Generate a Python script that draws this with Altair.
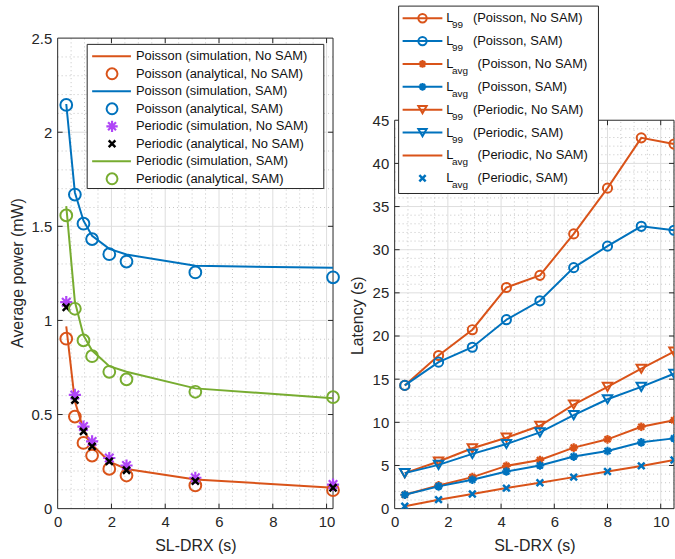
import altair as alt
import pandas as pd

# ---------------- data ----------------
sl_drx_power = [0.32, 0.64, 0.96, 1.28, 1.92, 2.56, 5.12, 10.24]
poisson_sim_nosam = [0.968, 0.57, 0.42, 0.34, 0.25, 0.211, 0.155, 0.111]
poisson_ana_nosam = [0.903, 0.489, 0.349, 0.282, 0.211, 0.176, 0.123, 0.098]
poisson_sim_sam = [2.15, 1.68, 1.53, 1.45, 1.38, 1.35, 1.29, 1.28]
poisson_ana_sam = [2.145, 1.669, 1.514, 1.432, 1.352, 1.313, 1.255, 1.229]
periodic_sim_nosam = [1.097, 0.604, 0.436, 0.357, 0.269, 0.229, 0.164, 0.128]
periodic_ana_nosam = [1.07, 0.577, 0.41, 0.331, 0.251, 0.204, 0.146, 0.111]
periodic_sim_sam = [1.607, 1.10, 0.92, 0.84, 0.757, 0.727, 0.639, 0.586]
periodic_ana_sam = [1.558, 1.062, 0.894, 0.81, 0.727, 0.687, 0.621, 0.592]

sl_drx_latency = [0.38, 1.65, 2.92, 4.2, 5.46, 6.73, 8.0, 9.27, 10.5]
l99_poisson_nosam = [14.28, 17.74, 20.73, 25.62, 27.03, 31.83, 37.13, 42.96, 42.24]
l99_poisson_sam = [14.28, 16.97, 18.7, 21.89, 24.08, 27.92, 30.41, 32.71, 32.25]
lavg_poisson_nosam = [1.61, 2.69, 3.65, 4.95, 5.64, 7.07, 8.03, 9.49, 10.25]
lavg_poisson_sam = [1.61, 2.58, 3.34, 4.31, 5.0, 6.03, 6.68, 7.68, 8.14]
l99_periodic_nosam = [4.11, 5.46, 6.99, 8.22, 9.6, 12.06, 14.1, 16.21, 18.2]
l99_periodic_sam = [4.11, 5.07, 6.34, 7.49, 8.83, 10.83, 12.67, 14.1, 15.63]
lavg_periodic_nosam = [0.27, 1.04, 1.69, 2.38, 3.0, 3.65, 4.31, 4.95, 5.64]
lavg_periodic_sam = [0.27, 1.04, 1.69, 2.38, 3.0, 3.65, 4.31, 4.95, 5.64]

power_legend = [
    "Poisson (simulation, No SAM)",
    "Poisson (analytical, No SAM)",
    "Poisson (simulation, SAM)",
    "Poisson (analytical, SAM)",
    "Periodic (simulation, No SAM)",
    "Periodic (analytical, No SAM)",
    "Periodic (simulation, SAM)",
    "Periodic (analytical, SAM)",
]
latency_sub = ["99", "99", "avg", "avg", "99", "99", "avg", "avg"]
latency_rest = [
    "(Poisson, No SAM)",
    "(Poisson, SAM)",
    "(Poisson, No SAM)",
    "(Poisson, SAM)",
    "(Periodic, No SAM)",
    "(Periodic, SAM)",
    "(Periodic, No SAM)",
    "(Periodic, SAM)",
]
power_xticks = [0, 2, 4, 6, 8, 10]
power_yticks = [0, 0.5, 1, 1.5, 2, 2.5]
latency_xticks = [0, 2, 4, 6, 8, 10]
latency_yticks = [0, 5, 10, 15, 20, 25, 30, 35, 40, 45]

# ---------------- style ----------------
FONT = "Liberation Sans"
TXT = "#262626"
ORANGE = "#D95319"
BLUE = "#0072BD"
GREEN = "#77AC30"
PURPLE = "#B046F7"
BLACK = "#000000"
GRID = "#DEDEDE"
MINOR = "#C4C4C4"
FRAME = "#262626"

ASTERISK = "M-1,0L1,0M0,-1L0,1M-0.7,-0.7L0.7,0.7M-0.7,0.7L0.7,-0.7"
XMARK = "M-1,-1L1,1M-1,1L1,-1"

H = 506
LW = 277
RW = 281
L_XMAX, L_YMAX, L_YTOP = 10.24, 2.5, H / 189.32
R_XMAX, R_YMAX, R_YTOP = 10.5, 45, H / 8.682

one = pd.DataFrame({"k": [0]})


def vals_df(v):
    return pd.DataFrame({"v": v})


def xaxis(values, title):
    return alt.Axis(values=values, format="d", title=title, grid=False, domain=False,
                    ticks=False, labelFlush=False, labelOverlap=False, labelFontSize=15,
                    labelFont=FONT, labelColor=TXT, labelPadding=6, titleFont=FONT,
                    titleFontSize=16, titleFontWeight="normal", titleColor=TXT,
                    titleY=37, titleBaseline="middle")


def yaxis(values, title, fmt, tx, ty):
    return alt.Axis(values=values, format=fmt, title=title, grid=False, domain=False,
                    ticks=False, labelFlush=False, labelOverlap=False, labelFontSize=15,
                    labelFont=FONT, labelColor=TXT, labelPadding=6, titleFont=FONT,
                    titleFontSize=16, titleFontWeight="normal", titleColor=TXT,
                    titleX=tx, titleY=ty, titleBaseline="middle")


class Panel:
    def __init__(self, xs, ys, xax, yax, clip):
        self.xs, self.ys, self.xax, self.yax, self.clip = xs, ys, xax, yax, clip

    def X(self, f=None, datum=None):
        if datum is not None:
            return alt.X(datum=datum, scale=self.xs, axis=self.xax)
        return alt.X(f, scale=self.xs, axis=self.xax)

    def Y(self, f=None, datum=None):
        if datum is not None:
            return alt.Y(datum=datum, scale=self.ys, axis=self.yax)
        return alt.Y(f, scale=self.ys, axis=self.yax)

    def background(self, xmax, ymax, xmaj, ymaj, xmin, ymin):
        L = []
        L.append(alt.Chart(vals_df(xmin)).mark_rule(color=MINOR, strokeWidth=1, strokeDash=[1, 3]).encode(
            x=self.X("v:Q"), y=self.Y(datum=0), y2=alt.Y2(datum=ymax)))
        L.append(alt.Chart(vals_df(ymin)).mark_rule(color=MINOR, strokeWidth=1, strokeDash=[1, 3]).encode(
            y=self.Y("v:Q"), x=self.X(datum=0), x2=alt.X2(datum=xmax)))
        L.append(alt.Chart(vals_df(xmaj)).mark_rule(color=GRID, strokeWidth=1).encode(
            x=self.X("v:Q"), y=self.Y(datum=0), y2=alt.Y2(datum=ymax)))
        L.append(alt.Chart(vals_df(ymaj)).mark_rule(color=GRID, strokeWidth=1).encode(
            y=self.Y("v:Q"), x=self.X(datum=0), x2=alt.X2(datum=xmax)))
        # frame
        L.append(alt.Chart(vals_df([0, ymax])).mark_rule(color=FRAME, strokeWidth=1).encode(
            y=self.Y("v:Q"), x=self.X(datum=0), x2=alt.X2(datum=xmax)))
        L.append(alt.Chart(vals_df([0, xmax])).mark_rule(color=FRAME, strokeWidth=1).encode(
            x=self.X("v:Q"), y=self.Y(datum=0), y2=alt.Y2(datum=ymax)))
        # inward ticks
        L.append(alt.Chart(vals_df(xmaj)).mark_rule(color=FRAME, strokeWidth=1, y2Offset=-5).encode(
            x=self.X("v:Q"), y=self.Y(datum=0), y2=alt.Y2(datum=0)))
        L.append(alt.Chart(vals_df(xmaj)).mark_rule(color=FRAME, strokeWidth=1, y2Offset=5).encode(
            x=self.X("v:Q"), y=self.Y(datum=ymax), y2=alt.Y2(datum=ymax)))
        L.append(alt.Chart(vals_df(ymaj)).mark_rule(color=FRAME, strokeWidth=1, x2Offset=5).encode(
            y=self.Y("v:Q"), x=self.X(datum=0), x2=alt.X2(datum=0)))
        L.append(alt.Chart(vals_df(ymaj)).mark_rule(color=FRAME, strokeWidth=1, x2Offset=-5).encode(
            y=self.Y("v:Q"), x=self.X(datum=xmax), x2=alt.X2(datum=xmax)))
        return L

    def line(self, xv, yv, color):
        df = pd.DataFrame({"x": xv, "y": yv})
        return alt.Chart(df).mark_line(color=color, strokeWidth=2, clip=self.clip).encode(
            x=self.X("x:Q"), y=self.Y("y:Q"))

    def points(self, xv, yv, color, shape, size, sw):
        df = pd.DataFrame({"x": xv, "y": yv})
        return alt.Chart(df).mark_point(shape=shape, filled=False, color=color, size=size,
                                        strokeWidth=sw, opacity=1, clip=self.clip).encode(
            x=self.X("x:Q"), y=self.Y("y:Q"))


def leg_box(x0, x1, y0, y1):
    return alt.Chart(one).mark_rect(fill="white", stroke=FRAME, strokeWidth=1).encode(
        x=alt.value(x0), x2=alt.value(x1), y=alt.value(y0), y2=alt.value(y1))


def leg_line(x0, x1, y, color):
    return alt.Chart(one).mark_rule(color=color, strokeWidth=2).encode(
        x=alt.value(x0), x2=alt.value(x1), y=alt.value(y))


def leg_marker(x, y, color, shape, size, sw):
    return alt.Chart(one).mark_point(shape=shape, filled=False, color=color, size=size,
                                     strokeWidth=sw, opacity=1).encode(
        x=alt.value(x), y=alt.value(y))


def leg_text(x, y, txt, size=13):
    return alt.Chart(one).mark_text(text=txt, align="left", baseline="middle", font=FONT,
                                    fontSize=size, color="#111111").encode(
        x=alt.value(x), y=alt.value(y))


# ---------------- left panel: average power ----------------
PL = Panel(alt.Scale(domain=[0, L_XMAX], nice=False, zero=False),
           alt.Scale(domain=[0, L_YTOP], nice=False, zero=False),
           xaxis(power_xticks, "SL-DRX (s)"),
           yaxis(power_yticks, "Average power (mW)", "~g", -40, 268.5),
           False)

minor_xL = [i * 0.5 for i in range(1, 21) if i % 4 != 0]
minor_yL = [round(i * 0.1, 2) for i in range(1, 25) if i % 5 != 0]

left_layers = PL.background(L_XMAX, L_YMAX, [2, 4, 6, 8, 10], [0.5, 1, 1.5, 2], minor_xL, minor_yL)
left_layers += [
    PL.line(sl_drx_power, poisson_sim_nosam, ORANGE),
    PL.points(sl_drx_power, poisson_ana_nosam, ORANGE, "circle", 140, 2),
    PL.line(sl_drx_power, poisson_sim_sam, BLUE),
    PL.points(sl_drx_power, poisson_ana_sam, BLUE, "circle", 140, 2),
    PL.points(sl_drx_power, periodic_sim_nosam, PURPLE, ASTERISK, 150, 2.2),
    PL.points(sl_drx_power, periodic_ana_nosam, BLACK, XMARK, 50, 2.5),
    PL.line(sl_drx_power, periodic_sim_sam, GREEN),
    PL.points(sl_drx_power, periodic_ana_sam, GREEN, "circle", 140, 2),
]
left_layers.append(leg_box(29.7, 267.7, 39, 184))
lkinds = [("line", ORANGE), ("circle", ORANGE), ("line", BLUE), ("circle", BLUE),
          ("ast", PURPLE), ("x", BLACK), ("line", GREEN), ("circle", GREEN)]
for i, (kind, col) in enumerate(lkinds):
    yc = 51 + 17.6 * i
    if kind == "line":
        left_layers.append(leg_line(34.7, 73.7, yc, col))
    elif kind == "circle":
        left_layers.append(leg_marker(54.7, yc, col, "circle", 120, 2))
    elif kind == "ast":
        left_layers.append(leg_marker(54.7, yc, col, ASTERISK, 130, 2.2))
    else:
        left_layers.append(leg_marker(54.7, yc, col, XMARK, 45, 2.5))
    left_layers.append(leg_text(78.7, yc, power_legend[i]))

left = alt.layer(*left_layers).properties(width=LW, height=H)

# ---------------- right panel: latency ----------------
PR = Panel(alt.Scale(domain=[0, R_XMAX], nice=False, zero=False),
           alt.Scale(domain=[0, R_YTOP], nice=False, zero=False),
           xaxis(latency_xticks, "SL-DRX (s)"),
           yaxis(latency_yticks, "Latency (s)", "d", -37, 311.5),
           True)

minor_xR = [i * 0.5 for i in range(1, 22) if i % 4 != 0]
minor_yR = [i for i in range(1, 45) if i % 5 != 0]

right_layers = PR.background(R_XMAX, R_YMAX, [2, 4, 6, 8, 10], [5, 10, 15, 20, 25, 30, 35, 40],
                             minor_xR, minor_yR)
right_layers += [
    PR.line(sl_drx_latency, l99_poisson_nosam, ORANGE),
    PR.points(sl_drx_latency, l99_poisson_nosam, ORANGE, "circle", 85, 2),
    PR.line(sl_drx_latency, l99_poisson_sam, BLUE),
    PR.points(sl_drx_latency, l99_poisson_sam, BLUE, "circle", 85, 2),
    PR.line(sl_drx_latency, lavg_poisson_nosam, ORANGE),
    PR.points(sl_drx_latency, lavg_poisson_nosam, ORANGE, ASTERISK, 75, 2.2),
    PR.line(sl_drx_latency, lavg_poisson_sam, BLUE),
    PR.points(sl_drx_latency, lavg_poisson_sam, BLUE, ASTERISK, 75, 2.2),
    PR.line(sl_drx_latency, l99_periodic_nosam, ORANGE),
    PR.points(sl_drx_latency, l99_periodic_nosam, ORANGE, "triangle-down", 90, 2),
    PR.line(sl_drx_latency, l99_periodic_sam, BLUE),
    PR.points(sl_drx_latency, l99_periodic_sam, BLUE, "triangle-down", 90, 2),
    PR.line(sl_drx_latency, lavg_periodic_nosam, ORANGE),
    PR.points(sl_drx_latency, lavg_periodic_sam, BLUE, XMARK, 45, 2.5),
]
right_layers.append(leg_box(4, 205, 0.5, 189))
rkinds = [(ORANGE, "circle"), (BLUE, "circle"), (ORANGE, "ast"), (BLUE, "ast"),
          (ORANGE, "tri"), (BLUE, "tri"), (ORANGE, None), (None, "x")]
for i, (col, mk) in enumerate(rkinds):
    yc = 12.7 + 23 * i
    if col is not None:
        right_layers.append(leg_line(8, 48, yc, col))
    mcol = col if col is not None else BLUE
    if mk == "circle":
        right_layers.append(leg_marker(28, yc, mcol, "circle", 70, 2))
    elif mk == "ast":
        right_layers.append(leg_marker(28, yc, mcol, ASTERISK, 60, 2.2))
    elif mk == "tri":
        right_layers.append(leg_marker(28, yc, mcol, "triangle-down", 70, 2))
    elif mk == "x":
        right_layers.append(leg_marker(28, yc, mcol, XMARK, 40, 2.5))
    right_layers.append(leg_text(52, yc, "L"))
    right_layers.append(leg_text(57.7, yc + 7, latency_sub[i], 10))
    right_layers.append(leg_text(78.7 if latency_sub[i] == "99" else 83.3, yc, latency_rest[i]))

right = alt.layer(*right_layers).properties(width=RW, height=H)

chart = alt.hconcat(left, right, spacing=6).properties(
    padding={"left": 10, "top": 4, "right": 0, "bottom": 0},
    background="white",
).configure_view(stroke=None)

chart.save("out.html", embed_options={"renderer": "svg", "actions": False})
